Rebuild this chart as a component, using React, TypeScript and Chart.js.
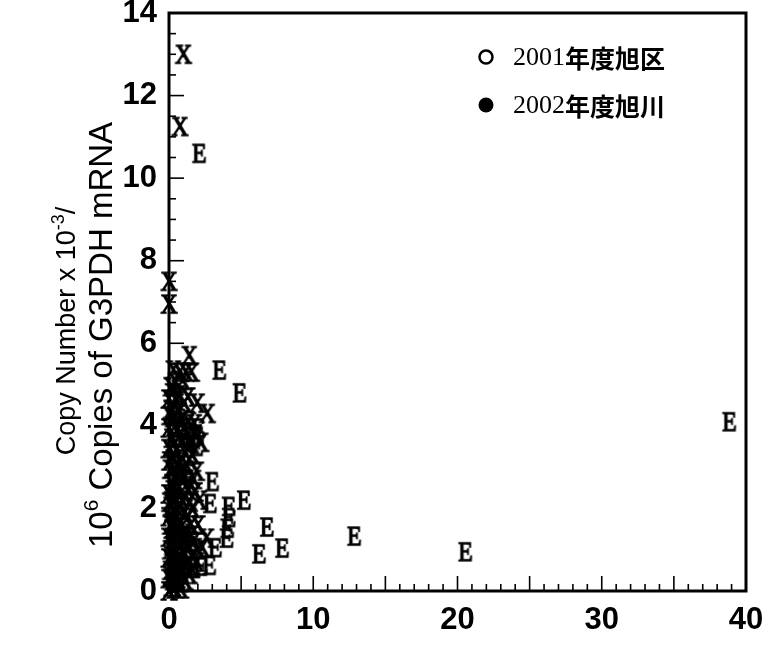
import React, { useEffect, useRef } from 'react';
import { Chart, registerables } from 'chart.js';

Chart.register(...registerables);

// ---- data ----
const seriesXMarks: [number, number][] = [
  [1.0, 13.0], [0.75, 11.25], [0.0, 7.5], [0.0, 6.95], [1.4, 5.7],
  [0.3, 5.35], [0.75, 5.3], [1.15, 5.3], [1.55, 5.3], [0.45, 5.05], [0.95, 5.1], [0.15, 4.95],
  [0.0, 4.65], [0.5, 4.6], [1.05, 4.55], [1.95, 4.55], [2.65, 4.3], [0.15, 4.4], [0.7, 4.35],
  [0.3, 4.2], [0.85, 4.15], [1.35, 4.1], [0.0, 3.95], [0.6, 3.9], [1.2, 3.85], [1.75, 3.8],
  [0.2, 3.7], [0.9, 3.6], [1.5, 3.55], [0.0, 3.45], [0.5, 3.4], [1.1, 3.35], [1.6, 3.3],
  [0.3, 3.2], [0.8, 3.1], [0.1, 2.95], [0.55, 2.8], [1.0, 2.7], [0.2, 2.6], [0.7, 2.5], [1.3, 2.45],
  [0.0, 2.35], [0.4, 2.25], [0.9, 2.2], [1.4, 2.15], [0.15, 2.05], [0.6, 1.95], [1.1, 1.9],
  [0.0, 1.8], [0.35, 1.7], [0.8, 1.65], [1.5, 1.6], [0.2, 1.5], [0.6, 1.45], [1.0, 1.4], [2.6, 1.28],
  [0.0, 1.3], [0.4, 1.2], [0.8, 1.15], [1.3, 1.1], [2.3, 1.05], [0.1, 1.0], [0.5, 0.95], [1.0, 0.9],
  [1.6, 0.85], [0.0, 0.8], [0.3, 0.7], [0.7, 0.65], [1.2, 0.6], [0.1, 0.5], [0.5, 0.45], [0.9, 0.4],
  [1.4, 0.4], [0.0, 0.3], [0.3, 0.25], [0.7, 0.2], [0.2, 0.1], [0.0, 0.0], [1.9, 0.7], [2.0, 1.6],
  [1.8, 2.4], [1.9, 2.9], [1.6, 2.0], [1.2, 1.3], [2.2, 3.6],
  [0.25, 4.8], [0.6, 4.75], [1.3, 4.7], [0.05, 4.25], [0.45, 4.0], [1.0, 3.95], [0.35, 3.55],
  [0.75, 3.75], [1.3, 3.6], [0.05, 3.15], [0.55, 3.05], [1.2, 3.05], [0.3, 2.45], [0.85, 2.9],
  [0.45, 2.65], [1.15, 2.55], [0.05, 2.15], [0.75, 2.05], [0.3, 1.9], [1.25, 1.75], [0.1, 1.6],
  [0.55, 1.55], [0.9, 1.25], [0.25, 1.1], [0.65, 0.85], [1.35, 0.75], [0.2, 0.85], [0.45, 0.6],
  [0.85, 0.55], [0.15, 0.35], [0.55, 0.3], [1.1, 0.25], [0.4, 0.05], [0.8, 0.05], [1.5, 1.35],
  [1.7, 1.2], [1.75, 4.05], [2.1, 2.2], [1.7, 2.7], [2.0, 1.0], [1.55, 0.55],
];

const seriesEMarks: [number, number][] = [
  [2.1, 10.6], [3.5, 5.35], [4.9, 4.8], [2.0, 3.95], [1.95, 3.75], [1.9, 3.5],
  [3.0, 2.65], [2.85, 2.12], [5.2, 2.2], [4.15, 2.05], [4.15, 1.78], [4.05, 1.52],
  [4.0, 1.28], [3.2, 1.05], [6.8, 1.55], [7.85, 1.04], [6.25, 0.9], [12.85, 1.33],
  [20.55, 0.95], [38.85, 4.1], [2.8, 0.62], [2.2, 0.6], [1.7, 0.55], [1.6, 1.2], [1.4, 2.85],
];

const markerGlyphs = ['X', 'E'];
const xTickValues = [0, 10, 20, 30, 40];
const yTickValues = [0, 2, 4, 6, 8, 10, 12, 14];
const legendYears = ['2001', '2002'];
const legendNames = ['年度旭区', '年度旭川'];
const yTitleLine1: [string, boolean][] = [['Copy Number x 10', false], ['-3', true], ['/', false]];
const yTitleLine2: [string, boolean][] = [['10', false], ['6', true], [' Copies of G3PDH mRNA', false]];

function makeGlyph(ch: string): HTMLCanvasElement {
  const c = document.createElement('canvas');
  c.width = 30;
  c.height = 30;
  const g = c.getContext('2d')!;
  g.translate(15, 15);
  g.scale(0.88, 1);
  g.font = '27px "Liberation Serif", "Times New Roman", serif';
  g.textAlign = 'center';
  g.textBaseline = 'alphabetic';
  g.fillStyle = '#000';
  g.strokeStyle = '#000';
  g.lineWidth = 1.3;
  g.fillText(ch, 0, 9);
  g.strokeText(ch, 0, 9);
  return c;
}

const frameTicksPlugin = {
  id: 'frameTicks',
  beforeDatasetsDraw(chart: any) {
    const { ctx, chartArea: a, scales } = chart;
    const x = scales.x;
    const y = scales.y;
    ctx.save();
    ctx.strokeStyle = '#000';
    ctx.lineWidth = 1.6;
    for (let i = 0; i <= 28; i++) {
      const v = i * 0.5;
      const py = y.getPixelForValue(v);
      const len = i % 4 === 0 ? 15 : 7;
      ctx.beginPath();
      ctx.moveTo(a.left, py);
      ctx.lineTo(a.left + len, py);
      ctx.stroke();
    }
    for (let v = 0; v <= 40; v++) {
      const px = x.getPixelForValue(v);
      const len = v % 5 === 0 ? 15 : 7;
      ctx.beginPath();
      ctx.moveTo(px, a.bottom);
      ctx.lineTo(px, a.bottom - len);
      ctx.stroke();
    }
    ctx.lineWidth = 3;
    ctx.strokeRect(a.left, a.top, a.right - a.left, a.bottom - a.top);
    ctx.restore();
  },
  afterDraw(chart: any) {
    const { ctx } = chart;
    ctx.save();
    // legend
    const rows = [57, 105];
    ctx.lineWidth = 2.5;
    ctx.strokeStyle = '#000';
    ctx.fillStyle = '#000';
    rows.forEach((ry, i) => {
      ctx.beginPath();
      ctx.arc(486, ry, i === 0 ? 6.5 : 7.5, 0, Math.PI * 2);
      if (i === 0) ctx.stroke();
      else ctx.fill();
      ctx.textAlign = 'left';
      ctx.textBaseline = 'middle';
      ctx.font = '26px "Liberation Serif", serif';
      ctx.fillText(legendYears[i], 513, ry + 1);
      const w = ctx.measureText(legendYears[i]).width;
      ctx.font = 'bold 25px "Noto Sans CJK JP", "Noto Sans CJK SC", sans-serif';
      ctx.fillText(legendNames[i], 513 + w, ry + 1);
    });
    // y axis title (two rotated lines)
    const drawLine = (parts: [string, boolean][], cx: number, cy: number, size: number) => {
      const supSize = Math.round(size * 0.65);
      const widths = parts.map(([t, sup]) => {
        ctx.font = `${sup ? supSize : size}px "Liberation Sans", Arial, sans-serif`;
        return ctx.measureText(t).width;
      });
      const total = widths.reduce((s, w) => s + w, 0);
      ctx.save();
      ctx.translate(cx, cy);
      ctx.rotate(-Math.PI / 2);
      let pos = -total / 2;
      ctx.textAlign = 'left';
      ctx.textBaseline = 'middle';
      parts.forEach(([t, sup], k) => {
        ctx.font = `${sup ? supSize : size}px "Liberation Sans", Arial, sans-serif`;
        ctx.fillText(t, pos, sup ? -size * 0.32 : 0);
        pos += widths[k];
      });
      ctx.restore();
    };
    drawLine(yTitleLine1, 68, 331, 27);
    drawLine(yTitleLine2, 103, 335, 33);
    ctx.restore();
  },
};

export default function App() {
  const ref = useRef<HTMLCanvasElement | null>(null);
  useEffect(() => {
    const canvas = ref.current!;
    const glyphX = makeGlyph(markerGlyphs[0]);
    const glyphE = makeGlyph(markerGlyphs[1]);
    const tickFont = { family: '"Liberation Sans", Arial, sans-serif', size: 31, weight: 'bold' as const };
    const chart = new Chart(canvas, {
      type: 'scatter',
      data: {
        datasets: [
          {
            label: 'X',
            data: seriesXMarks.map(([x, y]) => ({ x, y })),
            pointStyle: glyphX as any,
            pointRadius: 9,
            clip: false as any,
          },
          {
            label: 'E',
            data: seriesEMarks.map(([x, y]) => ({ x, y })),
            pointStyle: glyphE as any,
            pointRadius: 9,
            clip: false as any,
          },
        ],
      },
      options: {
        animation: false,
        responsive: false,
        devicePixelRatio: 1,
        layout: { padding: { left: 0, right: 16, top: 13, bottom: 0 } },
        plugins: { legend: { display: false }, tooltip: { enabled: false } },
        events: [],
        scales: {
          x: {
            type: 'linear',
            min: 0,
            max: 40,
            grid: { display: false },
            border: { display: false },
            ticks: { color: '#000', font: tickFont, padding: 3, maxRotation: 0, autoSkip: false },
            afterBuildTicks: (s: any) => { s.ticks = xTickValues.map((v) => ({ value: v })); },
            afterFit: (s: any) => { s.height = 54; s.paddingLeft = 0; s.paddingRight = 0; },
          },
          y: {
            type: 'linear',
            min: 0,
            max: 14,
            grid: { display: false },
            border: { display: false },
            ticks: { color: '#000', font: tickFont, padding: 4, autoSkip: false },
            afterBuildTicks: (s: any) => { s.ticks = yTickValues.map((v) => ({ value: v })); },
            afterFit: (s: any) => { s.width = 169; s.paddingTop = 0; s.paddingBottom = 0; },
          },
        },
      },
      plugins: [frameTicksPlugin],
    });
    return () => chart.destroy();
  }, []);
  return (
    <div style={{ position: 'absolute', left: 0, top: 0, width: 762, height: 645, background: '#fff' }}>
      <canvas ref={ref} width={762} height={645} style={{ display: 'block', width: 762, height: 645 }} />
    </div>
  );
}
